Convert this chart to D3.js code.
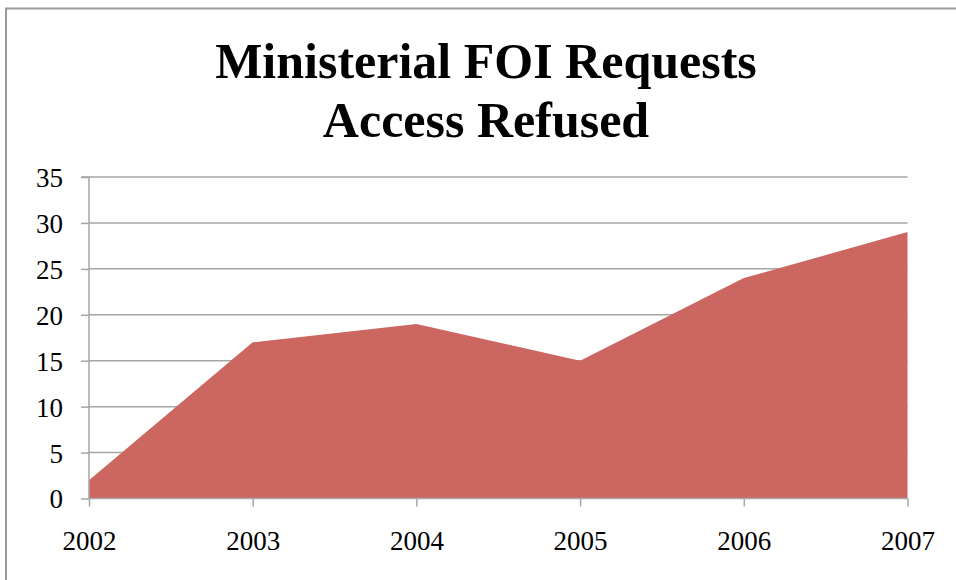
<!DOCTYPE html>
<html>
<head>
<meta charset="utf-8">
<script src="https://cdn.jsdelivr.net/npm/d3@7"></script>
<style>
  body { margin: 0; background: #fff; }
  svg { display: block; }
</style>
</head>
<body>
<div id="chart"></div>
<script>
// data
const years = [2002, 2003, 2004, 2005, 2006, 2007];
const refused = [2, 17, 19, 15, 24, 29];
const yTicks = [0, 5, 10, 15, 20, 25, 30, 35];
const titleLines = ['Ministerial FOI Requests', 'Access Refused'];

const width = 956;
const height = 580;
const gridColor = '#a6a6a6';

const svg = d3.select('#chart').append('svg')
    .attr('width', width)
    .attr('height', height);

// outer frame (runs off the right and bottom edges)
svg.append('rect')
    .attr('x', 6)
    .attr('y', 8.5)
    .attr('width', 980)
    .attr('height', 600)
    .attr('fill', 'none')
    .attr('stroke', '#9a9a9a')
    .attr('stroke-width', 2);

const title = svg.append('text')
    .attr('text-anchor', 'middle')
    .attr('font-family', '"Liberation Serif", serif')
    .attr('font-weight', 'bold')
    .attr('font-size', 50)
    .attr('fill', '#000');
titleLines.forEach((line, i) => {
    title.append('tspan')
        .attr('x', 486)
        .attr('y', 78 + i * 59)
        .text(line);
});

const x = d3.scalePoint()
    .domain(years)
    .range([89, 907.5]);

const y = d3.scaleLinear()
    .domain([0, 35])
    .range([498.5, 177]);

// gridlines behind the area
const grid = svg.append('g');
grid.selectAll('line')
    .data(yTicks.filter(d => d > 0))
    .enter()
    .append('line')
    .attr('x1', 89)
    .attr('x2', 907.5)
    .attr('y1', d => y(d))
    .attr('y2', d => y(d))
    .attr('stroke', gridColor)
    .attr('stroke-width', 1.5);

const area = d3.area()
    .x((d, i) => x(years[i]))
    .y0(y(0))
    .y1(d => y(d));

svg.append('path')
    .datum(refused)
    .attr('d', area)
    .attr('fill', '#cc6660');

// y axis
const yAxis = d3.axisLeft(y)
    .tickValues(yTicks)
    .tickSize(8)
    .tickPadding(18);
const gy = svg.append('g')
    .attr('transform', 'translate(89,0)')
    .call(yAxis);

// x axis
const xAxis = d3.axisBottom(x)
    .tickSize(8)
    .tickPadding(24);
const gx = svg.append('g')
    .attr('transform', `translate(0,${y(0)})`)
    .call(xAxis);

[gx, gy].forEach(g => {
    g.select('.domain')
        .attr('stroke', gridColor)
        .attr('stroke-width', 1.5);
    g.selectAll('.tick line')
        .attr('stroke', gridColor)
        .attr('stroke-width', 1.5);
    g.selectAll('.tick text')
        .attr('font-family', '"Liberation Serif", serif')
        .attr('font-size', 27)
        .attr('fill', '#000');
});
gy.select('.domain').attr('d', `M-8,${y(35)}H0V${y(0)}`);
gx.select('.domain').attr('d', `M${x(2002)},0H${x(2007)}`);
gy.selectAll('.tick text').attr('dy', '0.35em');
gx.selectAll('.tick text').attr('dy', '0.71em');
</script>
</body>
</html>
